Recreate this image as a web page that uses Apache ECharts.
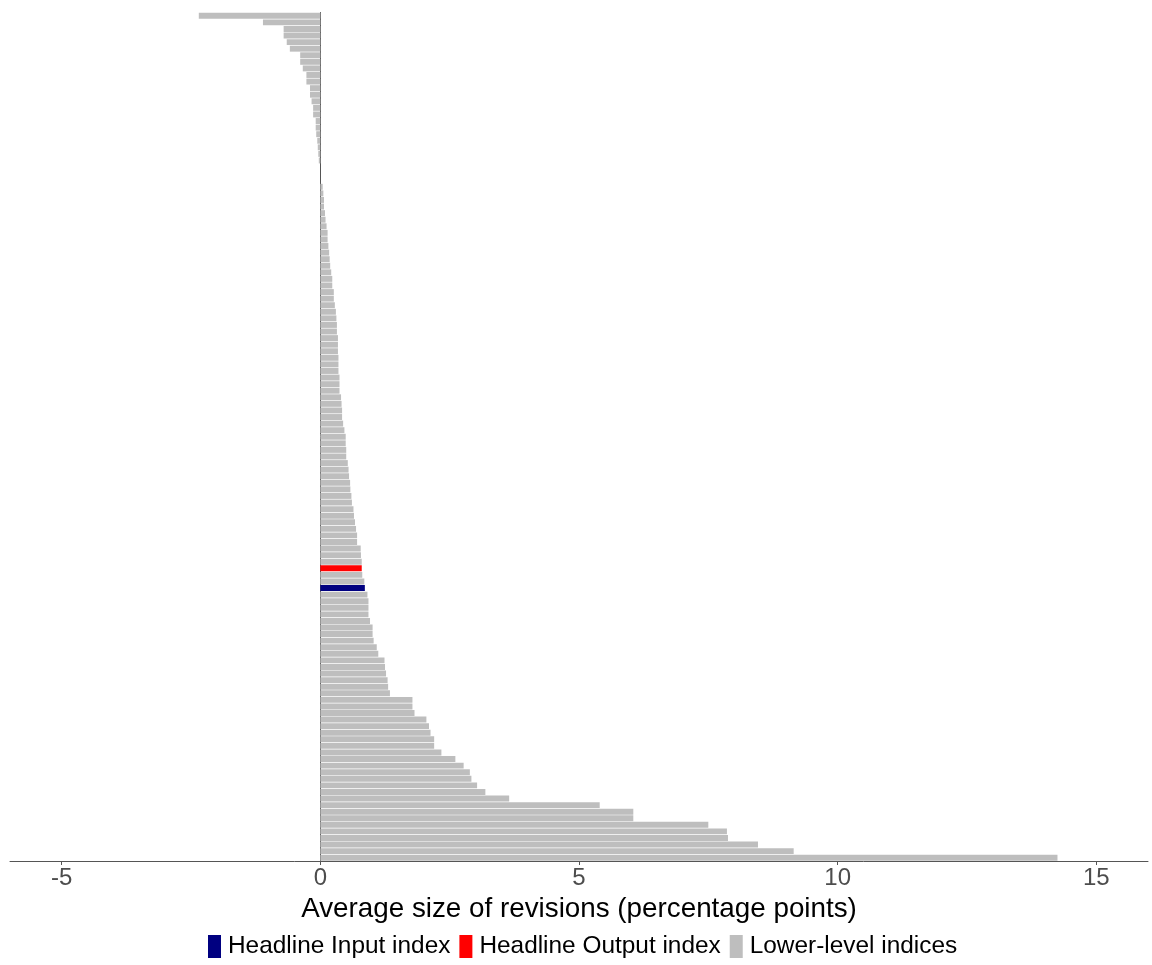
<!DOCTYPE html>
<html>
<head>
<meta charset="utf-8">
<script src="https://cdn.jsdelivr.net/npm/echarts@6/dist/echarts.min.js"></script>
<style>
html,body{margin:0;padding:0;background:#fff;}
#chart{width:1152px;height:965px;}
</style>
</head>
<body>
<div id="chart"></div>
<script>
// Average revision per index, sorted (top of chart first)
const revisions = [
  -2.35, -1.11, -0.71, -0.71, -0.65, -0.59, -0.39, -0.39, -0.34, -0.27, -0.27, -0.20,
  -0.20, -0.17, -0.14, -0.14, -0.09, -0.09, -0.08, -0.06, -0.05, -0.04, -0.03,
  0, 0, 0,
  0.045, 0.058, 0.07, 0.07, 0.09, 0.10, 0.12, 0.14, 0.14, 0.155, 0.17, 0.18, 0.19,
  0.21, 0.23, 0.23, 0.26, 0.26, 0.28, 0.30, 0.31, 0.32, 0.32, 0.34, 0.34, 0.34,
  0.35, 0.35, 0.35, 0.37, 0.37, 0.37, 0.40, 0.41, 0.42, 0.42, 0.44, 0.465, 0.49,
  0.49, 0.50, 0.50, 0.53, 0.545, 0.555, 0.575, 0.58, 0.60, 0.61, 0.64, 0.65, 0.67, 0.69,
  0.71, 0.71, 0.78, 0.785, 0.80, 0.80, 0.81, 0.85, 0.86, 0.91, 0.93, 0.93, 0.93,
  0.96, 1.01, 1.01, 1.03, 1.09, 1.12, 1.24, 1.25, 1.27, 1.30, 1.31, 1.345,
  1.78, 1.78, 1.82, 2.05, 2.10, 2.13, 2.20, 2.20, 2.34, 2.61, 2.77, 2.89, 2.92,
  3.03, 3.19, 3.65, 5.40, 6.05, 6.05, 7.50, 7.86, 7.88, 8.46, 9.15, 14.25
];
// Which group each bar belongs to (by position in the sorted list)
const headlineInputPos = 87;
const headlineOutputPos = 84;
const seriesNames = ['Headline Input index', 'Headline Output index', 'Lower-level indices'];
const seriesColors = ['#000080', '#ff0000', '#bebebe'];
const xTicks = [-5, 0, 5, 10, 15];
const xTitle = 'Average size of revisions (percentage points)';

const categories = revisions.map((_, i) => 'idx' + (i + 1));
function groupOf(i) {
  if (i === headlineInputPos) return 0;
  if (i === headlineOutputPos) return 1;
  return 2;
}
const FONT = '"Liberation Sans", Arial, sans-serif';

const series = seriesNames.map((name, g) => ({
  name: name,
  type: 'bar',
  barGap: '-100%',
  barCategoryGap: '10%',
  itemStyle: { color: seriesColors[g] },
  data: revisions.map((v, i) => groupOf(i) === g ? v : '-'),
  animation: false
}));

const chart = echarts.init(document.getElementById('chart'), null, { renderer: 'canvas' });
chart.setOption({
  backgroundColor: '#ffffff',
  animation: false,
  grid: { left: 10, right: 4, top: 12.5, bottom: 104 },
  legend: {
    data: [seriesNames[0], seriesNames[1], seriesNames[2]],
    left: 208,
    top: 934.5,
    icon: 'rect',
    itemWidth: 13,
    itemHeight: 23,
    itemGap: 9,
    padding: 0,
    textStyle: { fontSize: 24.4, color: '#000', fontFamily: FONT, padding: [0, 0, 0, 2] }
  },
  xAxis: {
    type: 'value',
    min: -6,
    max: 16,
    splitLine: { show: false },
    axisLine: { show: true, lineStyle: { color: '#555555', width: 1 } },
    axisTick: { show: true, customValues: xTicks, length: 4, lineStyle: { color: '#555555' } },
    axisLabel: { customValues: xTicks, fontSize: 24, color: '#4d4d4d', margin: 5, fontFamily: FONT },
    name: xTitle,
    nameLocation: 'middle',
    nameGap: 28,
    nameTextStyle: { fontSize: 27.8, color: '#000', fontFamily: FONT }
  },
  yAxis: {
    type: 'category',
    data: categories,
    inverse: true,
    axisLine: { show: true, onZero: true, lineStyle: { color: '#555555', width: 1 } },
    axisTick: { show: false },
    axisLabel: { show: false },
    splitLine: { show: false }
  },
  series: series
});
</script>
</body>
</html>
